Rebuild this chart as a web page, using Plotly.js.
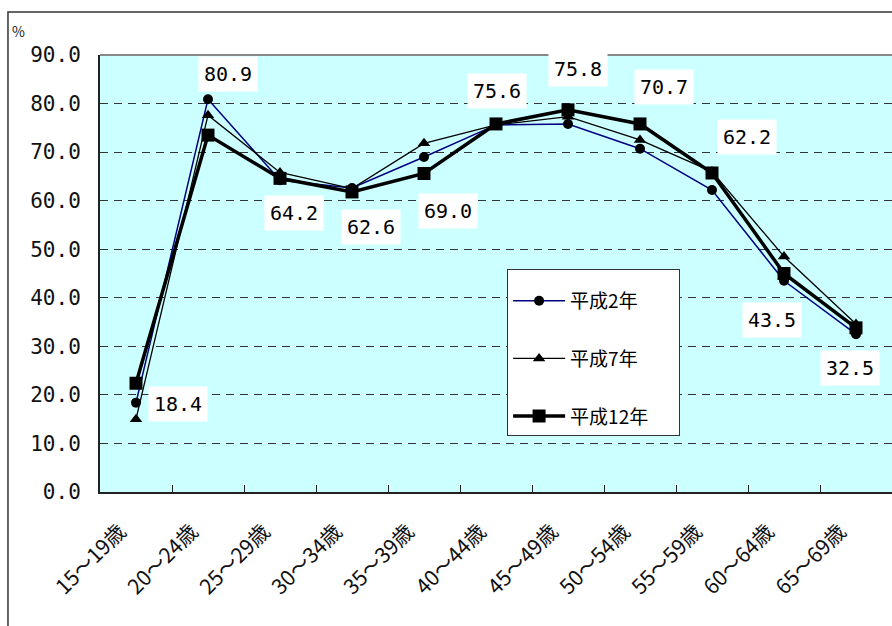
<!DOCTYPE html>
<html>
<head>
<meta charset="utf-8">
<script src="https://cdn.plot.ly/plotly-3.0.1.min.js"></script>
<style>
  html, body { margin: 0; padding: 0; background: #ffffff; }
  #chart { width: 892px; height: 626px; }
</style>
</head>
<body>
<div id="chart"></div>
<script>
// 年齢階級別の労働力率（％）
var ageGroups = ['15～19歳', '20～24歳', '25～29歳', '30～34歳', '35～39歳', '40～44歳',
                 '45～49歳', '50～54歳', '55～59歳', '60～64歳', '65～69歳'];
var seriesNames = ['平成2年', '平成7年', '平成12年'];
var h2Values  = [18.4, 80.9, 64.2, 62.6, 69.0, 75.6, 75.8, 70.7, 62.2, 43.5, 32.5];
var h7Values  = [15.0, 77.6, 65.8, 62.5, 71.8, 75.6, 77.3, 72.5, 66.0, 48.5, 34.6];
var h12Values = [22.4, 73.5, 64.6, 61.8, 65.6, 75.8, 78.7, 75.8, 65.7, 45.0, 33.8];

// 平成2年の値ラベルの表示位置（マーカーからのずれ, px）
var labelShiftX = [42, 20, 14, 19, 24, 1, 10, 24, 35, -12, -6];
var labelShiftY = [-1, 25, -33, -39, -54, 34, 55, 62, 53, -39, -34];

var monoFont = '"DejaVu Sans Mono", "Liberation Mono", monospace';
var jpFont = '"Noto Sans CJK JP", "Noto Sans", sans-serif';

// 凡例の枠幅をそろえるための余白
var pad = '\u00a0\u00a0\u00a0\u00a0\u00a0\u00a0';

var traces = [
  {
    x: ageGroups, y: h2Values, name: seriesNames[0] + pad, type: 'scatter', mode: 'lines+markers',
    legendgroup: 'a',
    line: { color: '#000080', width: 1.5 },
    marker: { symbol: 'circle', size: 10, color: '#000000' }
  },
  {
    x: ageGroups, y: h7Values, name: seriesNames[1] + pad, type: 'scatter', mode: 'lines+markers',
    legendgroup: 'b',
    line: { color: '#000000', width: 1.3 },
    marker: { symbol: 'triangle-up', size: 11, color: '#000000' }
  },
  {
    x: ageGroups, y: h12Values, name: seriesNames[2] + pad, type: 'scatter', mode: 'lines+markers',
    legendgroup: 'c',
    line: { color: '#000000', width: 3.5 },
    marker: { symbol: 'square', size: 13, color: '#000000' }
  }
];

var annotations = h2Values.map(function (v, i) {
  return {
    x: ageGroups[i], y: v, xref: 'x', yref: 'y',
    text: v.toFixed(1), showarrow: false,
    xshift: labelShiftX[i], yshift: labelShiftY[i],
    font: { family: monoFont, size: 20, color: '#000000' },
    bgcolor: '#ffffff', borderpad: 5
  };
});

annotations.push({
  xref: 'paper', yref: 'paper', x: -0.1035, y: 1.055,
  xanchor: 'center', yanchor: 'middle',
  text: '%', showarrow: false,
  font: { family: jpFont, size: 14, color: '#222222' }
});

var layout = {
  width: 892, height: 626,
  margin: { l: 100, r: 0, t: 55, b: 134 },
  paper_bgcolor: '#ffffff',
  plot_bgcolor: '#ccffff',
  showlegend: true,
  legend: {
    x: 0.514, y: 0.51, xanchor: 'left', yanchor: 'top',
    bgcolor: '#ffffff', bordercolor: '#333333', borderwidth: 1,
    font: { family: jpFont, size: 19, color: '#000000' },
    title: { text: '\u00a0', font: { family: jpFont, size: 9 } },
    traceorder: 'grouped',
    tracegroupgap: 30,
    itemwidth: 52
  },
  xaxis: {
    type: 'category',
    range: [-0.5, 10.5],
    tickangle: -45,
    tickson: 'boundaries',
    ticks: 'inside', ticklen: 7, tickcolor: '#222222', tickwidth: 1,
    ticklabelstandoff: 17, ticklabelshift: -16,
    showline: true, linecolor: '#222222', linewidth: 2,
    showgrid: false,
    tickfont: { family: jpFont, size: 21, color: '#111111' }
  },
  yaxis: {
    range: [0, 90], dtick: 10, tickformat: '.1f',
    showline: true, linecolor: '#222222', linewidth: 2,
    ticks: '', ticklabelstandoff: 13,
    showgrid: true, gridcolor: '#333333', gridwidth: 1, griddash: '8px,6px',
    zeroline: false,
    tickfont: { family: monoFont, size: 21, color: '#111111' }
  },
  shapes: [
    // グラフ全体の枠
    { type: 'rect', xref: 'paper', yref: 'paper', x0: -0.1162, x1: 1.05, y0: -0.45, y1: 1.0984,
      line: { color: '#333333', width: 1.5 }, fillcolor: 'rgba(0,0,0,0)', layer: 'below' },
    // プロットエリア上辺
    { type: 'line', xref: 'paper', yref: 'paper', x0: 0, x1: 1, y0: 1, y1: 1,
      line: { color: '#888888', width: 2 } }
  ],
  annotations: annotations
};

Plotly.newPlot('chart', traces, layout, { displayModeBar: false, staticPlot: true });
</script>
</body>
</html>
